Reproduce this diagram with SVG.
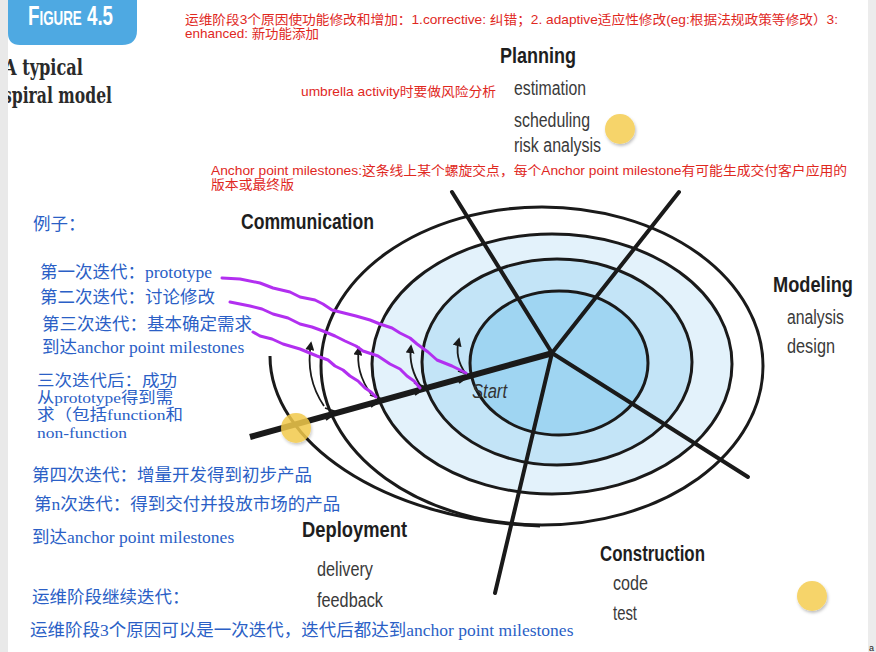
<svg xmlns="http://www.w3.org/2000/svg" width="876" height="652" viewBox="0 0 876 652">
<defs>
<style>
.red{font-family:"Liberation Sans","Noto Sans CJK SC",sans-serif;font-size:13px;fill:#e0281e}
.blue{font-family:"Liberation Serif","Noto Sans CJK SC",serif;font-size:17.5px;fill:#2b5fc6}
.blue2{font-family:"Liberation Serif","Noto Sans CJK SC",serif;font-size:15.5px;fill:#2b5fc6}
.lbl{font-family:"Liberation Sans",sans-serif;font-weight:bold;font-size:22px;fill:#1e1e1e}
.sub{font-family:"Liberation Sans",sans-serif;font-size:20px;fill:#3a3a3a}
.ring{stroke:#1a1a1a;stroke-width:3}
.spoke{stroke:#1a1a1a;stroke-width:4;stroke-linecap:round;fill:none}
.thin{stroke:#1a1a1a;stroke-width:1.8;fill:none}
.purple{stroke:#b22ff0;stroke-width:3;fill:none;stroke-linejoin:round;stroke-linecap:round}
.dot{fill:#f6d46a}
</style>
<marker id="ah" viewBox="0 0 10 10" refX="8" refY="5" markerWidth="5" markerHeight="5" orient="auto">
<path d="M0,0 L10,5 L0,10 Z" fill="#1a1a1a"/>
</marker>
<filter id="sh" x="-30%" y="-30%" width="160%" height="160%">
<feDropShadow dx="1" dy="2" stdDeviation="1.5" flood-color="#000" flood-opacity="0.25"/>
</filter>
</defs>
<rect width="876" height="652" fill="#ffffff"/>

<g id="figure-tab">
<path d="M8,0 H137 V30 Q137,45 122,45 H20 Q8,45 8,33 Z" fill="#4ea9e2"/>
<text x="28" y="25" textLength="85" lengthAdjust="spacingAndGlyphs" font-family="Liberation Sans,sans-serif" font-weight="bold" font-size="28" font-variant="small-caps" fill="#ffffff">Figure 4.5</text>
</g>

<g id="title" font-family="DejaVu Serif,serif" font-weight="bold" font-size="22" fill="#2a2a2a">
<text x="4" y="75" textLength="79" lengthAdjust="spacingAndGlyphs">A typical</text>
<text x="3" y="103" textLength="109" lengthAdjust="spacingAndGlyphs">spiral model</text>
</g>

<g id="spiral">
<ellipse cx="542" cy="366" rx="221" ry="159" fill="#ffffff" class="ring"/>
<ellipse cx="552" cy="364" rx="180" ry="130" fill="#e3f2fb" class="ring"/>
<ellipse cx="557" cy="362" rx="135" ry="103" fill="#c3e4f7" class="ring"/>
<ellipse cx="559" cy="363" rx="89" ry="72" fill="#9fd5f2" class="ring"/>
<path d="M270,356 C270,440 380,520 540,526" fill="none" class="ring"/>
</g>

<g id="connectors">
<line class="spoke" x1="452" y1="192" x2="552" y2="353"/>
<line class="spoke" x1="552" y1="353" x2="679" y2="192"/>
<line class="spoke" x1="552" y1="353" x2="748" y2="477"/>
<line class="spoke" x1="552" y1="353" x2="495" y2="593"/>
<line x1="250" y1="437" x2="553" y2="353" stroke="#1a1a1a" stroke-width="6" stroke-linecap="butt"/>
<path class="thin" d="M324,406 Q305,378 311,343" marker-end="url(#ah)"/>
<path class="thin" d="M371,394 Q355,372 359,348" marker-end="url(#ah)"/>
<path class="thin" d="M422,388 Q408,368 411,346" marker-end="url(#ah)"/>
<path class="thin" d="M466,374 Q454,358 459,339" marker-end="url(#ah)"/>
<polyline class="thin" points="326,420 337,412 325,408"/>
<polyline class="thin" points="371,407 382,399 370,395"/>
<polyline class="thin" points="415,395 426,387 414,383"/>
<polyline class="thin" points="459,383 470,375 458,371"/>
<polyline class="purple" points="222,278 240,279 260,283 273,288 290,292 300,297 315,300 323,304 332,310 356,316 370,320 380,324 392,328 400,333 410,338 417,344 428,352 437,360 452,366 466,373"/>
<polyline class="purple" points="230,302 250,306 262,309 273,314 288,318 300,324 312,327 323,331 335,336 345,341 356,346 363,351 378,356 390,364 400,369 407,376 414,381 420,388"/>
<polyline class="purple" points="253,332 260,336 272,339 283,344 300,349 317,356 328,360 335,366 343,370 350,376 358,381 365,388 371,392 376,397"/>
</g>

<g id="start">
<text x="472" y="398" textLength="35" lengthAdjust="spacingAndGlyphs" font-family="Liberation Sans,sans-serif" font-style="italic" font-size="20" fill="#333333">Start</text>
</g>

<g id="planning">
<text class="lbl" x="500" y="63" textLength="76" lengthAdjust="spacingAndGlyphs">Planning</text>
<text class="sub" x="514" y="95" textLength="72" lengthAdjust="spacingAndGlyphs">estimation</text>
<text class="sub" x="514" y="127" textLength="76" lengthAdjust="spacingAndGlyphs">scheduling</text>
<text class="sub" x="514" y="152" textLength="87" lengthAdjust="spacingAndGlyphs">risk analysis</text>
</g>

<g id="communication">
<text class="lbl" x="241" y="229" textLength="133" lengthAdjust="spacingAndGlyphs">Communication</text>
</g>

<g id="modeling">
<text class="lbl" x="773" y="292" textLength="80" lengthAdjust="spacingAndGlyphs">Modeling</text>
<text class="sub" x="787" y="324" textLength="57" lengthAdjust="spacingAndGlyphs">analysis</text>
<text class="sub" x="787" y="353" textLength="48" lengthAdjust="spacingAndGlyphs">design</text>
</g>

<g id="construction">
<text class="lbl" x="600" y="561" textLength="105" lengthAdjust="spacingAndGlyphs">Construction</text>
<text class="sub" x="613" y="590" textLength="35" lengthAdjust="spacingAndGlyphs">code</text>
<text class="sub" x="613" y="620" textLength="24" lengthAdjust="spacingAndGlyphs">test</text>
</g>

<g id="deployment">
<text class="lbl" x="302" y="537" textLength="105" lengthAdjust="spacingAndGlyphs">Deployment</text>
<text class="sub" x="317" y="576" textLength="56" lengthAdjust="spacingAndGlyphs">delivery</text>
<text class="sub" x="317" y="607" textLength="66" lengthAdjust="spacingAndGlyphs">feedback</text>
</g>

<g id="dots">
<circle class="dot" cx="620" cy="129" r="15" filter="url(#sh)"/>
<circle class="dot" cx="812" cy="596" r="15" filter="url(#sh)"/>
<circle cx="296" cy="428" r="15" fill="#f2c94c" opacity="0.85" filter="url(#sh)"/>
</g>

<g id="red-notes">
<text class="red" x="185" y="24" font-size="12.5" textLength="653" lengthAdjust="spacingAndGlyphs">运维阶段3个原因使功能修改和增加：1.corrective: 纠错；2. adaptive适应性修改(eg:根据法规政策等修改）3:</text>
<text class="red" x="185" y="38" font-size="12.5" textLength="134" lengthAdjust="spacingAndGlyphs">enhanced: 新功能添加</text>
<text class="red" x="301" y="96" textLength="195" lengthAdjust="spacingAndGlyphs">umbrella activity时要做风险分析</text>
<text class="red" x="211" y="175" font-size="12.5" textLength="636" lengthAdjust="spacingAndGlyphs">Anchor point milestones:这条线上某个螺旋交点，每个Anchor point milestone有可能生成交付客户应用的</text>
<text class="red" x="211" y="189" font-size="12.5" textLength="83" lengthAdjust="spacingAndGlyphs">版本或最终版</text>
</g>

<g id="blue-notes">
<text class="blue" x="33" y="230">例子：</text>
<text class="blue" x="40" y="278">第一次迭代：prototype</text>
<text class="blue" x="40" y="303">第二次迭代：讨论修改</text>
<text class="blue" x="42" y="330">第三次迭代：基本确定需求</text>
<text class="blue" x="42" y="353">到达anchor point milestones</text>
<text class="blue2" x="37" y="386" textLength="140" lengthAdjust="spacingAndGlyphs">三次迭代后：成功</text>
<text class="blue2" x="37" y="403" textLength="136" lengthAdjust="spacingAndGlyphs">从prototype得到需</text>
<text class="blue2" x="37" y="420" textLength="146" lengthAdjust="spacingAndGlyphs">求（包括function和</text>
<text class="blue2" x="37" y="438" textLength="90" lengthAdjust="spacingAndGlyphs">non-function</text>
<text class="blue" x="32" y="481">第四次迭代：增量开发得到初步产品</text>
<text class="blue" x="34" y="510">第n次迭代：得到交付并投放市场的产品</text>
<text class="blue" x="32" y="543">到达anchor point milestones</text>
<text class="blue" x="32" y="603">运维阶段继续迭代：</text>
<text class="blue" x="30" y="636">运维阶段3个原因可以是一次迭代，迭代后都达到anchor point milestones</text>
</g>

<rect x="0" y="0" width="8" height="652" fill="#e9e9e9"/>
<rect x="868" y="0" width="8" height="652" fill="#ececec"/>
<text x="869" y="651" font-family="Liberation Sans,sans-serif" font-size="9" fill="#222">a</text>
</svg>
